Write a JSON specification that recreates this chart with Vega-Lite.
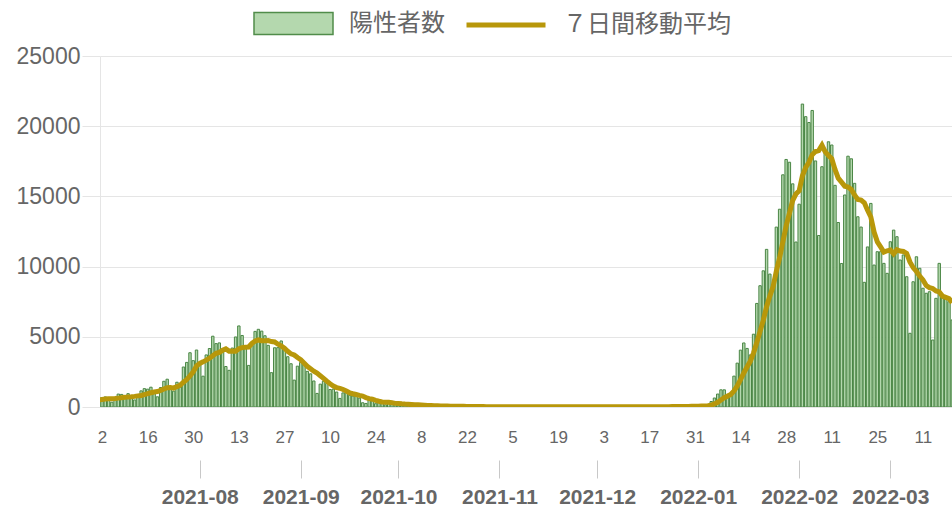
{
"$schema": "https://vega.github.io/schema/vega-lite/v6.json",
"width": 852, "height": 351,
"autosize": {"type": "none"},
"padding": {"left": 100, "top": 56, "right": 0, "bottom": 100},
"background": "white",
"config": {"view": {"stroke": null}, "font": "Liberation Sans"},
"data": {"values": [
{"date":"2021-06-26","cases":534},{"date":"2021-06-27","cases":386},{"date":"2021-06-28","cases":317},{"date":"2021-06-29","cases":476},{"date":"2021-06-30","cases":714},
{"date":"2021-07-01","cases":673},{"date":"2021-07-02","cases":660},{"date":"2021-07-03","cases":716},{"date":"2021-07-04","cases":518},{"date":"2021-07-05","cases":342},{"date":"2021-07-06","cases":593},{"date":"2021-07-07","cases":920},{"date":"2021-07-08","cases":896},{"date":"2021-07-09","cases":822},{"date":"2021-07-10","cases":950},{"date":"2021-07-11","cases":614},{"date":"2021-07-12","cases":502},{"date":"2021-07-13","cases":830},{"date":"2021-07-14","cases":1149},{"date":"2021-07-15","cases":1308},{"date":"2021-07-16","cases":1271},{"date":"2021-07-17","cases":1410},{"date":"2021-07-18","cases":1008},{"date":"2021-07-19","cases":727},{"date":"2021-07-20","cases":1387},{"date":"2021-07-21","cases":1832},{"date":"2021-07-22","cases":1979},{"date":"2021-07-23","cases":1359},{"date":"2021-07-24","cases":1128},{"date":"2021-07-25","cases":1763},{"date":"2021-07-26","cases":1429},{"date":"2021-07-27","cases":2848},{"date":"2021-07-28","cases":3177},{"date":"2021-07-29","cases":3865},{"date":"2021-07-30","cases":3300},{"date":"2021-07-31","cases":4058},
{"date":"2021-08-01","cases":3058},{"date":"2021-08-02","cases":2195},{"date":"2021-08-03","cases":3709},{"date":"2021-08-04","cases":4166},{"date":"2021-08-05","cases":5042},{"date":"2021-08-06","cases":4515},{"date":"2021-08-07","cases":4566},{"date":"2021-08-08","cases":4066},{"date":"2021-08-09","cases":2884},{"date":"2021-08-10","cases":2612},{"date":"2021-08-11","cases":4200},{"date":"2021-08-12","cases":4989},{"date":"2021-08-13","cases":5773},{"date":"2021-08-14","cases":5094},{"date":"2021-08-15","cases":4295},{"date":"2021-08-16","cases":2962},{"date":"2021-08-17","cases":4377},{"date":"2021-08-18","cases":5386},{"date":"2021-08-19","cases":5534},{"date":"2021-08-20","cases":5405},{"date":"2021-08-21","cases":5074},{"date":"2021-08-22","cases":4392},{"date":"2021-08-23","cases":2447},{"date":"2021-08-24","cases":4220},{"date":"2021-08-25","cases":4228},{"date":"2021-08-26","cases":4704},{"date":"2021-08-27","cases":4227},{"date":"2021-08-28","cases":3581},{"date":"2021-08-29","cases":3081},{"date":"2021-08-30","cases":1915},{"date":"2021-08-31","cases":2909},
{"date":"2021-09-01","cases":3168},{"date":"2021-09-02","cases":3099},{"date":"2021-09-03","cases":2539},{"date":"2021-09-04","cases":2362},{"date":"2021-09-05","cases":1853},{"date":"2021-09-06","cases":968},{"date":"2021-09-07","cases":1629},{"date":"2021-09-08","cases":1834},{"date":"2021-09-09","cases":1675},{"date":"2021-09-10","cases":1242},{"date":"2021-09-11","cases":1273},{"date":"2021-09-12","cases":1067},{"date":"2021-09-13","cases":611},{"date":"2021-09-14","cases":1004},{"date":"2021-09-15","cases":1052},{"date":"2021-09-16","cases":831},{"date":"2021-09-17","cases":782},{"date":"2021-09-18","cases":862},{"date":"2021-09-19","cases":629},{"date":"2021-09-20","cases":302},{"date":"2021-09-21","cases":253},{"date":"2021-09-22","cases":537},{"date":"2021-09-23","cases":531},{"date":"2021-09-24","cases":235},{"date":"2021-09-25","cases":383},{"date":"2021-09-26","cases":302},{"date":"2021-09-27","cases":154},{"date":"2021-09-28","cases":248},{"date":"2021-09-29","cases":267},{"date":"2021-09-30","cases":218},
{"date":"2021-10-01","cases":200},{"date":"2021-10-02","cases":198},{"date":"2021-10-03","cases":161},{"date":"2021-10-04","cases":87},{"date":"2021-10-05","cases":149},{"date":"2021-10-06","cases":144},{"date":"2021-10-07","cases":138},{"date":"2021-10-08","cases":82},{"date":"2021-10-09","cases":94},{"date":"2021-10-10","cases":60},{"date":"2021-10-11","cases":49},{"date":"2021-10-12","cases":77},{"date":"2021-10-13","cases":72},{"date":"2021-10-14","cases":62},{"date":"2021-10-15","cases":66},{"date":"2021-10-16","cases":67},{"date":"2021-10-17","cases":40},{"date":"2021-10-18","cases":29},{"date":"2021-10-19","cases":36},{"date":"2021-10-20","cases":41},{"date":"2021-10-21","cases":36},{"date":"2021-10-22","cases":26},{"date":"2021-10-23","cases":32},{"date":"2021-10-24","cases":19},{"date":"2021-10-25","cases":17},{"date":"2021-10-26","cases":29},{"date":"2021-10-27","cases":36},{"date":"2021-10-28","cases":21},{"date":"2021-10-29","cases":26},{"date":"2021-10-30","cases":22},{"date":"2021-10-31","cases":22},
{"date":"2021-11-01","cases":9},{"date":"2021-11-02","cases":29},{"date":"2021-11-03","cases":31},{"date":"2021-11-04","cases":18},{"date":"2021-11-05","cases":23},{"date":"2021-11-06","cases":24},{"date":"2021-11-07","cases":15},{"date":"2021-11-08","cases":7},{"date":"2021-11-09","cases":21},{"date":"2021-11-10","cases":27},{"date":"2021-11-11","cases":22},{"date":"2021-11-12","cases":32},{"date":"2021-11-13","cases":21},{"date":"2021-11-14","cases":18},{"date":"2021-11-15","cases":8},{"date":"2021-11-16","cases":26},{"date":"2021-11-17","cases":22},{"date":"2021-11-18","cases":28},{"date":"2021-11-19","cases":19},{"date":"2021-11-20","cases":16},{"date":"2021-11-21","cases":19},{"date":"2021-11-22","cases":6},{"date":"2021-11-23","cases":12},{"date":"2021-11-24","cases":19},{"date":"2021-11-25","cases":13},{"date":"2021-11-26","cases":24},{"date":"2021-11-27","cases":21},{"date":"2021-11-28","cases":12},{"date":"2021-11-29","cases":5},{"date":"2021-11-30","cases":18},
{"date":"2021-12-01","cases":16},{"date":"2021-12-02","cases":14},{"date":"2021-12-03","cases":25},{"date":"2021-12-04","cases":20},{"date":"2021-12-05","cases":12},{"date":"2021-12-06","cases":8},{"date":"2021-12-07","cases":16},{"date":"2021-12-08","cases":21},{"date":"2021-12-09","cases":19},{"date":"2021-12-10","cases":22},{"date":"2021-12-11","cases":25},{"date":"2021-12-12","cases":17},{"date":"2021-12-13","cases":9},{"date":"2021-12-14","cases":20},{"date":"2021-12-15","cases":21},{"date":"2021-12-16","cases":26},{"date":"2021-12-17","cases":24},{"date":"2021-12-18","cases":30},{"date":"2021-12-19","cases":17},{"date":"2021-12-20","cases":12},{"date":"2021-12-21","cases":33},{"date":"2021-12-22","cases":23},{"date":"2021-12-23","cases":37},{"date":"2021-12-24","cases":40},{"date":"2021-12-25","cases":38},{"date":"2021-12-26","cases":37},{"date":"2021-12-27","cases":24},{"date":"2021-12-28","cases":46},{"date":"2021-12-29","cases":76},{"date":"2021-12-30","cases":64},{"date":"2021-12-31","cases":78},
{"date":"2022-01-01","cases":79},{"date":"2022-01-02","cases":84},{"date":"2022-01-03","cases":103},{"date":"2022-01-04","cases":151},{"date":"2022-01-05","cases":390},{"date":"2022-01-06","cases":641},{"date":"2022-01-07","cases":922},{"date":"2022-01-08","cases":1224},{"date":"2022-01-09","cases":1223},{"date":"2022-01-10","cases":871},{"date":"2022-01-11","cases":962},{"date":"2022-01-12","cases":2198},{"date":"2022-01-13","cases":3124},{"date":"2022-01-14","cases":4051},{"date":"2022-01-15","cases":4561},{"date":"2022-01-16","cases":4172},{"date":"2022-01-17","cases":3709},{"date":"2022-01-18","cases":5185},{"date":"2022-01-19","cases":7377},{"date":"2022-01-20","cases":8638},{"date":"2022-01-21","cases":9699},{"date":"2022-01-22","cases":11227},{"date":"2022-01-23","cases":9468},{"date":"2022-01-24","cases":8503},{"date":"2022-01-25","cases":12813},{"date":"2022-01-26","cases":14086},{"date":"2022-01-27","cases":16538},{"date":"2022-01-28","cases":17631},{"date":"2022-01-29","cases":17433},{"date":"2022-01-30","cases":15895},{"date":"2022-01-31","cases":11751},
{"date":"2022-02-01","cases":14445},{"date":"2022-02-02","cases":21576},{"date":"2022-02-03","cases":20679},{"date":"2022-02-04","cases":20262},{"date":"2022-02-05","cases":21121},{"date":"2022-02-06","cases":17526},{"date":"2022-02-07","cases":12214},{"date":"2022-02-08","cases":17113},{"date":"2022-02-09","cases":18287},{"date":"2022-02-10","cases":18891},{"date":"2022-02-11","cases":18660},{"date":"2022-02-12","cases":15788},{"date":"2022-02-13","cases":13141},{"date":"2022-02-14","cases":10222},{"date":"2022-02-15","cases":15100},{"date":"2022-02-16","cases":17864},{"date":"2022-02-17","cases":17679},{"date":"2022-02-18","cases":15930},{"date":"2022-02-19","cases":13550},{"date":"2022-02-20","cases":12817},{"date":"2022-02-21","cases":8880},{"date":"2022-02-22","cases":11400},{"date":"2022-02-23","cases":14500},{"date":"2022-02-24","cases":10110},{"date":"2022-02-25","cases":11060},{"date":"2022-02-26","cases":11060},{"date":"2022-02-27","cases":10230},{"date":"2022-02-28","cases":9520},
{"date":"2022-03-01","cases":11770},{"date":"2022-03-02","cases":12600},{"date":"2022-03-03","cases":12130},{"date":"2022-03-04","cases":10470},{"date":"2022-03-05","cases":10830},{"date":"2022-03-06","cases":9280},{"date":"2022-03-07","cases":5250},{"date":"2022-03-08","cases":8920},{"date":"2022-03-09","cases":10700},{"date":"2022-03-10","cases":9880},{"date":"2022-03-11","cases":8460},{"date":"2022-03-12","cases":8100},{"date":"2022-03-13","cases":8210},{"date":"2022-03-14","cases":4770},{"date":"2022-03-15","cases":7740},{"date":"2022-03-16","cases":10230},{"date":"2022-03-17","cases":7760},{"date":"2022-03-18","cases":7860},{"date":"2022-03-19","cases":7500},{"date":"2022-03-20","cases":6200}
]},
"transform": [
  {"window": [{"op": "mean", "field": "cases", "as": "ma7"}], "frame": [-6, 0], "sort": [{"field": "date"}]}
],
"layer": [
  {
    "mark": {"type": "bar", "size": 2.4, "stroke": "#4a8645", "strokeWidth": 1, "clip": true},
    "encoding": {
      "x": {"field": "date", "type": "temporal",
        "scale": {"type": "utc", "padding": 0, "domain": [{"year": 2021, "month": 7, "date": 1, "hours": 9, "utc": true}, {"year": 2022, "month": 3, "date": 19, "hours": 22, "utc": true}]},
        "axis": {"orient": "bottom", "title": null, "format": "%-d", "labelFontSize": 17, "labelColor": "#666", "tickSize": 0, "labelPadding": 22, "domain": false, "grid": false, "labelOverlap": false, "labelBound": false, "labelFlush": false,
          "values": [
            {"year": 2021, "month": 7, "date": 2, "utc": true},{"year": 2021, "month": 7, "date": 16, "utc": true},{"year": 2021, "month": 7, "date": 30, "utc": true},
            {"year": 2021, "month": 8, "date": 13, "utc": true},{"year": 2021, "month": 8, "date": 27, "utc": true},{"year": 2021, "month": 9, "date": 10, "utc": true},
            {"year": 2021, "month": 9, "date": 24, "utc": true},{"year": 2021, "month": 10, "date": 8, "utc": true},{"year": 2021, "month": 10, "date": 22, "utc": true},
            {"year": 2021, "month": 11, "date": 5, "utc": true},{"year": 2021, "month": 11, "date": 19, "utc": true},{"year": 2021, "month": 12, "date": 3, "utc": true},
            {"year": 2021, "month": 12, "date": 17, "utc": true},{"year": 2021, "month": 12, "date": 31, "utc": true},{"year": 2022, "month": 1, "date": 14, "utc": true},
            {"year": 2022, "month": 1, "date": 28, "utc": true},{"year": 2022, "month": 2, "date": 11, "utc": true},{"year": 2022, "month": 2, "date": 25, "utc": true},
            {"year": 2022, "month": 3, "date": 11, "utc": true}
          ]}},
      "y": {"field": "cases", "type": "quantitative", "scale": {"domain": [0, 25000], "nice": false},
        "axis": {"title": null, "format": "d", "values": [0, 5000, 10000, 15000, 20000, 25000], "labelFontSize": 23, "labelColor": "#666", "tickSize": 18, "tickColor": "#e5e5e5", "gridColor": "#e5e5e5", "domainColor": "#e5e5e5", "labelPadding": 2}},
      "fill": {"datum": "陽性者数", "scale": {"range": ["#b4d8ae"]},
        "legend": {"orient": "none", "legendX": 153, "legendY": -73, "title": null, "padding": 0,
          "symbolType": "M-1,-0.28L1,-0.28L1,0.28L-1,0.28Z", "symbolSize": 6241,
          "labelFontSize": 24, "labelFont": "Noto Sans CJK JP", "labelColor": "#666", "labelOffset": 15, "labelLimit": 400,
          "symbolStrokeColor": "#508c4a", "symbolStrokeWidth": 1.5, "symbolOpacity": 1,
          "encode": {"symbols": {"update": {"stroke": {"value": "#508c4a"}, "strokeWidth": {"value": 1.5}, "fill": {"value": "#c4e2c0"}}}}}}
    }
  },
  {
    "mark": {"type": "line", "strokeWidth": 5, "clip": true},
    "encoding": {
      "x": {"field": "date", "type": "temporal",
        "axis": {"orient": "bottom", "title": null, "format": "%Y-%m", "labelFontSize": 21, "labelFontWeight": "bold", "labelColor": "#666", "tickSize": 18, "tickColor": "#c8c8c8", "offset": 53, "labelPadding": 8, "domain": false, "grid": false, "labelOverlap": false, "labelBound": false, "labelFlush": false,
          "values": [
            {"year": 2021, "month": 8, "date": 1, "utc": true},{"year": 2021, "month": 9, "date": 1, "utc": true},{"year": 2021, "month": 10, "date": 1, "utc": true},
            {"year": 2021, "month": 11, "date": 1, "utc": true},{"year": 2021, "month": 12, "date": 1, "utc": true},{"year": 2022, "month": 1, "date": 1, "utc": true},
            {"year": 2022, "month": 2, "date": 1, "utc": true},{"year": 2022, "month": 3, "date": 1, "utc": true}
          ]}},
      "y": {"field": "ma7", "type": "quantitative", "axis": {"title": null}},
      "stroke": {"datum": "７日間移動平均", "scale": {"range": ["#b8970a"]},
        "legend": {"orient": "none", "legendX": 364, "legendY": -73, "title": null, "padding": 0,
          "symbolType": "stroke", "symbolSize": 6241, "symbolStrokeWidth": 5,
          "labelFontSize": 24, "labelFont": "Noto Sans CJK JP", "labelColor": "#666", "labelOffset": 15, "labelLimit": 400}}
    }
  }
],
"resolve": {"axis": {"x": "independent"}}
}
